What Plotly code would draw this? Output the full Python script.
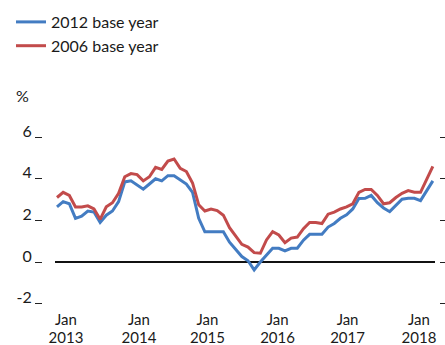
import plotly.graph_objects as go

W, H = 445, 345

# Monthly inflation, Jan 2013 - Feb 2018 (%)
base_2012 = [
    2.65, 2.9, 2.8, 2.1, 2.2, 2.45, 2.4, 1.9, 2.25, 2.45, 2.9, 3.85,
    3.9, 3.7, 3.5, 3.75, 4.0, 3.9, 4.15, 4.15, 3.95, 3.75, 3.35, 2.1,
    1.45, 1.45, 1.45, 1.45, 0.95, 0.6, 0.26, 0.06, -0.38, 0.0, 0.35, 0.66,
    0.66, 0.54, 0.66, 0.66, 1.05, 1.33, 1.33, 1.33, 1.68, 1.85, 2.1, 2.27,
    2.55, 3.05, 3.06, 3.2, 2.85, 2.6, 2.42, 2.7, 3.02, 3.06, 3.06, 2.95,
    3.4, 3.9,
]
base_2006 = [
    3.1, 3.35, 3.2, 2.65, 2.65, 2.7, 2.55, 2.05, 2.65, 2.85, 3.3, 4.1,
    4.25, 4.2, 3.9, 4.1, 4.55, 4.45, 4.85, 4.95, 4.5, 4.35, 3.8, 2.75,
    2.45, 2.55, 2.47, 2.25, 1.65, 1.22, 0.85, 0.72, 0.45, 0.42, 1.06, 1.46,
    1.3, 0.93, 1.15, 1.2, 1.6, 1.9, 1.9, 1.85, 2.3, 2.4, 2.55, 2.65,
    2.8, 3.35, 3.49, 3.49, 3.2, 2.8, 2.85, 3.1, 3.3, 3.43, 3.35, 3.35,
    3.95, 4.6,
]
months = list(range(len(base_2012)))  # 0 = Jan 2013

x_tick_pos = [1.46, 13.31, 24.43, 35.8, 47.16, 58.75]
x_tick_month = ["Jan"] * 6
x_tick_year = ["2013", "2014", "2015", "2016", "2017", "2018"]
y_tick_vals = [-2, 0, 2, 4, 6]
y_tick_text = ["-2", "0", "2", "4", "6"]

BLUE = "#437cc2"
RED = "#c24b4b"
FONT = "Lato"
TXT = "#1a1a1a"

fig = go.Figure()
fig.add_trace(go.Scatter(x=months, y=base_2012, mode="lines", name="2012 base year",
                         line=dict(color=BLUE, width=3)))
fig.add_trace(go.Scatter(x=months, y=base_2006, mode="lines", name="2006 base year",
                         line=dict(color=RED, width=3)))
# invisible carrier so the secondary (year-label / right-tick) axes are drawn
fig.add_trace(go.Scatter(x=months, y=base_2012, mode="lines", xaxis="x2", yaxis="y2",
                         line=dict(width=0, color="rgba(0,0,0,0)"), showlegend=False,
                         hoverinfo="skip"))

px_left, px_right = 55, 435
px_top, px_bot = 125, 308
xr = [-0.325, 61.35]
yr = [-(px_bot - 262) / 20.8, (262 - px_top) / 20.8]
ydom = [(H - px_bot) / H, (H - px_top) / H]
xdom = [px_left / W, px_right / W]

fig.update_layout(
    width=W, height=H, autosize=False,
    margin=dict(l=0, r=0, t=0, b=0, pad=0, autoexpand=False),
    paper_bgcolor="white", plot_bgcolor="white",
    font=dict(family=FONT, size=16, color=TXT),
    showlegend=True,
    legend=dict(x=11 / W, y=1 - 5 / H, xanchor="left", yanchor="top",
                bgcolor="rgba(0,0,0,0)", font=dict(size=16, family=FONT, color=TXT),
                tracegroupgap=0),
    xaxis=dict(domain=xdom, range=xr, anchor="y", automargin=False,
               showgrid=False, zeroline=False, showline=False, ticks="",
               tickmode="array", tickvals=x_tick_pos, ticktext=x_tick_month,
               ticklabelstandoff=1,
               tickfont=dict(size=15, family=FONT, color=TXT)),
    xaxis2=dict(domain=xdom, range=xr, overlaying="x", automargin=False,
                anchor="free", position=(H - 327) / H, side="bottom",
                showgrid=False, zeroline=False, showline=False, ticks="",
                tickmode="array", tickvals=x_tick_pos, ticktext=x_tick_year,
                tickfont=dict(size=15, family=FONT, color=TXT)),
    yaxis=dict(domain=ydom, range=yr, automargin=False,
               anchor="free", position=42 / W,
               showgrid=False, zeroline=True, zerolinecolor="#111111", zerolinewidth=1.5,
               showline=False, ticks="outside", ticklen=7, tickwidth=1, tickcolor="#222222",
               tickmode="array", tickvals=y_tick_vals, ticktext=y_tick_text,
               ticklabelshift=-6, tickfont=dict(size=16, family=FONT, color=TXT)),
    yaxis2=dict(domain=ydom, range=yr, overlaying="y", automargin=False,
                anchor="free", position=439 / W, side="right",
                showgrid=False, zeroline=False, showline=False, ticks="outside",
                ticklen=6, tickwidth=1.2, tickcolor="#222222",
                tickmode="array", tickvals=y_tick_vals, ticktext=y_tick_text,
                showticklabels=False),
    annotations=[dict(text="%", x=14 / W, y=1 - 95 / H, xref="paper", yref="paper",
                      xanchor="left", yanchor="middle", showarrow=False,
                      font=dict(size=16, family=FONT, color=TXT))],
)

fig.write_html("out.html", config={"displayModeBar": False},
               post_script="document.body.style.margin='0';document.body.style.overflow='hidden';")
